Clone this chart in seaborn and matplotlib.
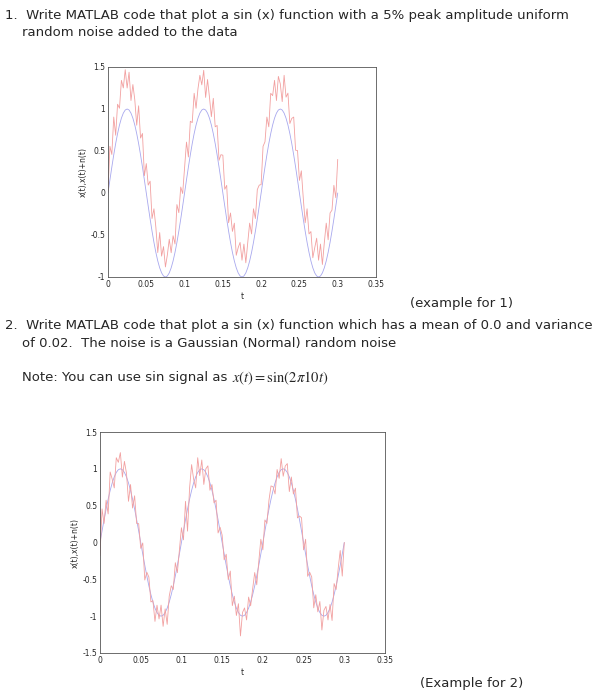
import numpy as np
import seaborn as sns
import matplotlib.pyplot as plt

sns.set_style("white")
plt.rcParams['font.family'] = ['DejaVu Sans']

# time axis, step 0.0025 s, 0..0.3
t = [i * 0.0025 for i in range(121)]

# clean sine (one cycle, repeated three times)
cycle = [0, .156, .309, .454, .588, .707, .809, .891, .951, .988,
         1, .988, .951, .891, .809, .707, .588, .454, .309, .156,
         0, -.156, -.309, -.454, -.588, -.707, -.809, -.891, -.951, -.988,
         -1, -.988, -.951, -.891, -.809, -.707, -.588, -.454, -.309, -.156]
x_clean = cycle * 3 + [0]

# uniform noise offsets (plot 1), estimated
noise_u = [0.02, 0.40, 0.15, 0.45, 0.10, 0.35, 0.20, 0.45, 0.30, 0.48, 0.25, 0.45, 0.15, 0.40, 0.30,
           0.10, 0.45, 0.20, 0.40, 0.05, 0.35, 0.25, 0.45, 0.15, 0.40, 0.30, 0.10, 0.42, 0.20, 0.35,
           0.12, 0.25, 0.40, 0.18, 0.30, 0.10, 0.45, 0.22, 0.38, 0.15, 0.30, 0.45, 0.12, 0.40, 0.25,
           0.48, 0.20, 0.35, 0.45, 0.30, 0.46, 0.15, 0.40, 0.25, 0.10, 0.42, 0.20, 0.35, 0.08, 0.30,
           0.45, 0.20, 0.40, 0.10, 0.35, 0.25, 0.45, 0.15, 0.30, 0.40, 0.20, 0.38, 0.12, 0.30, 0.45,
           0.22, 0.40, 0.15, 0.35, 0.25, 0.10, 0.40, 0.30, 0.45, 0.20, 0.48, 0.35, 0.45, 0.15, 0.40,
           0.30, 0.10, 0.45, 0.25, 0.38, 0.12, 0.30, 0.45, 0.20, 0.35, 0.15, 0.42, 0.25, 0.10, 0.40,
           0.22, 0.35, 0.12, 0.30, 0.45, 0.20, 0.38, 0.10, 0.30, 0.45, 0.15, 0.35, 0.25, 0.40, 0.10, 0.40]

# gaussian noise (plot 2), estimated
noise_g = [-0.18, 0.30, -0.05, 0.12, -0.20, 0.25, 0.05, -0.15, 0.20, 0.10, 0.22, -0.10, 0.15, 0.05, -0.25,
           0.08, -0.12, 0.18, -0.05, 0.10, -0.08, 0.15, -0.20, 0.05, 0.12, -0.10, 0.02, -0.18, 0.10, -0.05,
           0.15, -0.15, 0.05, -0.22, 0.08, 0.12, -0.05, 0.18, -0.10, 0.05, 0.20, -0.12, 0.25, -0.30, 0.15,
           0.35, 0.05, -0.15, 0.20, -0.08, 0.12, -0.20, 0.05, 0.15, -0.10, 0.08, -0.05, 0.12, -0.18, 0.05,
           0.10, -0.08, 0.15, -0.05, 0.20, -0.15, 0.08, -0.10, 0.12, -0.28, 0.05, 0.10, -0.10, 0.15, -0.05,
           0.08, 0.18, -0.12, 0.05, 0.20, -0.10, 0.15, -0.05, 0.12, 0.18, 0.05, -0.15, 0.10, -0.08, 0.15,
           -0.10, 0.05, 0.12, -0.20, 0.08, -0.05, 0.15, -0.12, 0.05, 0.18, -0.10, 0.20, -0.15, 0.05, 0.12,
           -0.18, 0.10, -0.05, 0.15, -0.20, 0.08, 0.12, -0.10, 0.05, -0.25, 0.15, -0.05, 0.10, 0.20, -0.30, 0.0]

noisy1 = [a + b for a, b in zip(x_clean, noise_u)]
noisy2 = [a + b for a, b in zip(x_clean, noise_g)]

x_ticks = [0, 0.05, 0.1, 0.15, 0.2, 0.25, 0.3, 0.35]
x_labels = ['0', '0.05', '0.1', '0.15', '0.2', '0.25', '0.3', '0.35']

fig = plt.figure(figsize=(5.94, 7.0), dpi=100)

def px(l, t_, r, b):
    return [l / 594, 1 - b / 700, (r - l) / 594, (b - t_) / 700]

def draw(ax, noisy, ylim, yticks):
    sns.lineplot(x=t, y=x_clean, ax=ax, color='#a8a8ee', lw=0.6)
    sns.lineplot(x=t, y=noisy, ax=ax, color='#f2a0a0', lw=0.6)
    ax.set_xlim(0, 0.35)
    ax.set_ylim(*ylim)
    ax.set_xticks(x_ticks)
    ax.set_xticklabels(x_labels)
    ax.set_yticks(yticks)
    ax.set_yticklabels([('%g' % v) for v in yticks])
    ax.tick_params(labelsize=5.5, direction='in', length=3, pad=2)
    ax.set_xlabel('t', fontsize=5.5, labelpad=2)
    ax.set_ylabel('x(t),x(t)+n(t)', fontsize=5.5, labelpad=2)
    for s in ax.spines.values():
        s.set_color('#555555')
        s.set_linewidth(0.6)

ax1 = fig.add_axes(px(108, 67, 376, 277))
draw(ax1, noisy1, (-1, 1.5), [-1, -0.5, 0, 0.5, 1, 1.5])
ax2 = fig.add_axes(px(100, 432, 385, 653))
draw(ax2, noisy2, (-1.5, 1.5), [-1.5, -1, -0.5, 0, 0.5, 1, 1.5])

fs = 9.5
def txt(x, y, s, **kw):
    fig.text(x / 594, 1 - y / 700, s, fontsize=kw.pop('fontsize', fs), va='center', **kw)

txt(5, 15, '1.  Write MATLAB code that plot a sin (x) function with a 5% peak amplitude uniform')
txt(22, 33, 'random noise added to the data')
txt(410, 303, '(example for 1)')
txt(5, 326, '2.  Write MATLAB code that plot a sin (x) function which has a mean of 0.0 and variance')
txt(22, 343, 'of 0.02.  The noise is a Gaussian (Normal) random noise')
txt(22, 378, 'Note: You can use sin signal as')
txt(232, 378, r'$x(t) = \sin(2\pi 10t)$', fontsize=10.5, math_fontfamily='stix')
txt(420, 683, '(Example for 2)')

fig.savefig('out.png', dpi=100)
